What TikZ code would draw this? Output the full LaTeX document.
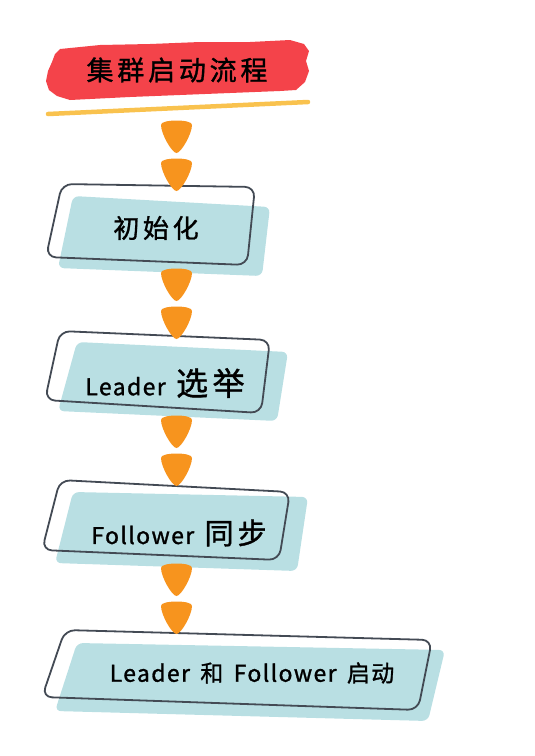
\documentclass[tikz,border=0pt]{standalone}
\usepackage{fontspec}
\setmainfont{Noto Sans CJK SC}[FakeBold=1.2]
\definecolor{flowred}{HTML}{F4434A}
\definecolor{flowyellow}{HTML}{F9C24E}
\definecolor{droporange}{HTML}{F7941E}
\definecolor{boxblue}{HTML}{B9DFE3}
\definecolor{boxline}{HTML}{434A54}

\tikzset{
	stepfill/.style={fill=boxblue, rounded corners=6pt},
	stepline/.style={draw=boxline, line width=1.8pt, rounded corners=10pt},
	drop/.style={fill=droporange},
	steptext/.style={font=\fontsize{23}{26}\selectfont\addfontfeature{LetterSpace=6}, inner sep=0pt}
}

\newcommand{\bigzh}[2]{{\fontsize{#1}{#1}\selectfont\addfontfeature{LetterSpace=14}#2}}
\newcommand{\gap}{\hspace{0.45em}}

\begin{document}
\begin{tikzpicture}[x=1pt, y=-1pt]
			\useasboundingbox (0,0) rectangle (535,756);

			% title banner
			\fill [flowred] (60,49) -- (100,45) -- (150,44) -- (200,42) -- (250,42)
				-- (290,40) -- (304,44) -- (309,51) -- (306,61) -- (309,71)
				-- (305,82) -- (296,90) -- (280,91) -- (230,93) -- (180,95)
				-- (130,97) -- (90,99) -- (70,100) -- (57,96) -- (49,90)
				-- (46,81) -- (48,71) -- (52,62) -- (55,54) -- cycle;
			\draw [flowyellow, line width=4.5pt, line cap=round] (48,114) -- (308,102);
			\node (title) at (177,70) {\bigzh{27}{集群启动流程}};

			% steps
			\fill [stepfill] (73,196) -- (270,207) -- (262,276) -- (58,268) -- cycle;
			\draw [stepline] (62,184) -- (255,187) -- (247,265) -- (46,257) -- cycle;
			\node (init) at (156,228) {\bigzh{26}{初始化}};

			\fill [stepfill] (77,342) -- (288,352) -- (277,421) -- (58,411) -- cycle;
			\draw [stepline] (60,331) -- (270,340) -- (261,413) -- (45,400) -- cycle;
			\node [steptext] (elect) at (165,383) {Leader\gap\bigzh{32}{选举}};

			\fill [stepfill] (73,492) -- (308,497) -- (297,571) -- (55,563) -- cycle;
			\draw [stepline] (60,480) -- (290,492) -- (279,560) -- (42,550) -- cycle;
			\node [steptext] (sync) at (179,533) {Follower\gap\bigzh{29}{同步}};

			\fill [stepfill] (77,643) -- (445,650) -- (428,721) -- (55,711) -- cycle;
			\draw [stepline] (65,630) -- (432,640) -- (418,710) -- (42,697) -- cycle;
			\node [steptext] (start) at (252,673) {Leader\gap 和\gap Follower\gap 启动};

			% drops between the steps
			\foreach \t in {119,157,267,305,414,452,562,600}
				\fill [drop] (161,\t+6) .. controls (160,\t) and (193,\t) .. (192,\t+6)
					.. controls (192,\t+15) and (181,\t+34) .. (176.5,\t+34)
					.. controls (172,\t+34) and (161,\t+15) .. (161,\t+6) -- cycle;
		\end{tikzpicture}
\end{document}
